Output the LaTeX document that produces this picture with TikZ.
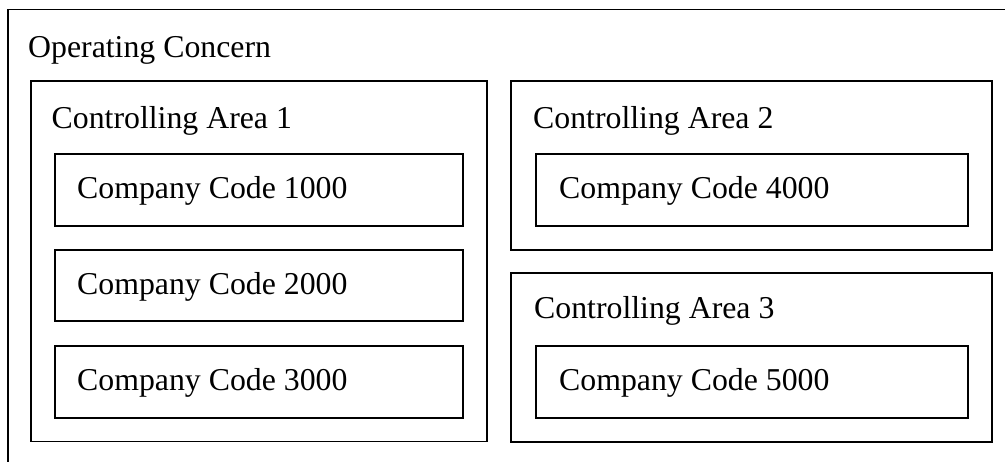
\documentclass[tikz,border=0pt]{standalone}
\usepackage{fontspec}
\setmainfont{Liberation Serif}
\begin{document}
\begin{tikzpicture}[x=1pt,y=-1pt,
  frame/.style={draw=black,line width=1.6pt,fill=none,inner sep=0pt,outer sep=0pt},
  label/.style={anchor=base west,inner sep=0pt,font=\fontsize{31.8}{38}\selectfont}]
\useasboundingbox (0,0) rectangle (1005,461);
\clip (0,0) rectangle (1005,461);

% operating concern (runs past the right and bottom edges)
\coordinate (ocbl) at (8,480);
\coordinate (octl) at (8,9.5);
\coordinate (octr) at (1020,9.5);
\draw[line width=1.6pt] (ocbl) -- (octl) -- (octr);
\node[label] (oc) at (28,57.5) {Operating Concern};

% controlling area 1 with three company codes
\node[frame,minimum width=456pt,minimum height=360.5pt] (ca1) at (259,261.25) {};
\node[label] (ca1t) at (51.5,128) {Controlling Area 1};
\node[frame,minimum width=408pt,minimum height=72pt] (cc1) at (259,190) {};
\node[label] (cc1t) at (77,198) {Company Code 1000};
\node[frame,minimum width=408pt,minimum height=71pt] (cc2) at (259,285.5) {};
\node[label] (cc2t) at (77,294) {Company Code 2000};
\node[frame,minimum width=408pt,minimum height=72pt] (cc3) at (259,382) {};
\node[label] (cc3t) at (77,390) {Company Code 3000};

% controlling area 2
\node[frame,minimum width=481pt,minimum height=169pt] (ca2) at (751.5,165.5) {};
\node[label] (ca2t) at (533,128) {Controlling Area 2};
\node[frame,minimum width=432pt,minimum height=72pt] (cc4) at (752,190) {};
\node[label] (cc4t) at (559,198) {Company Code 4000};

% controlling area 3
\node[frame,minimum width=481pt,minimum height=169pt] (ca3) at (751.5,357.5) {};
\node[label] (ca3t) at (534,318) {Controlling Area 3};
\node[frame,minimum width=432pt,minimum height=72pt] (cc5) at (752,382) {};
\node[label] (cc5t) at (559,390) {Company Code 5000};
\end{tikzpicture}
\end{document}
